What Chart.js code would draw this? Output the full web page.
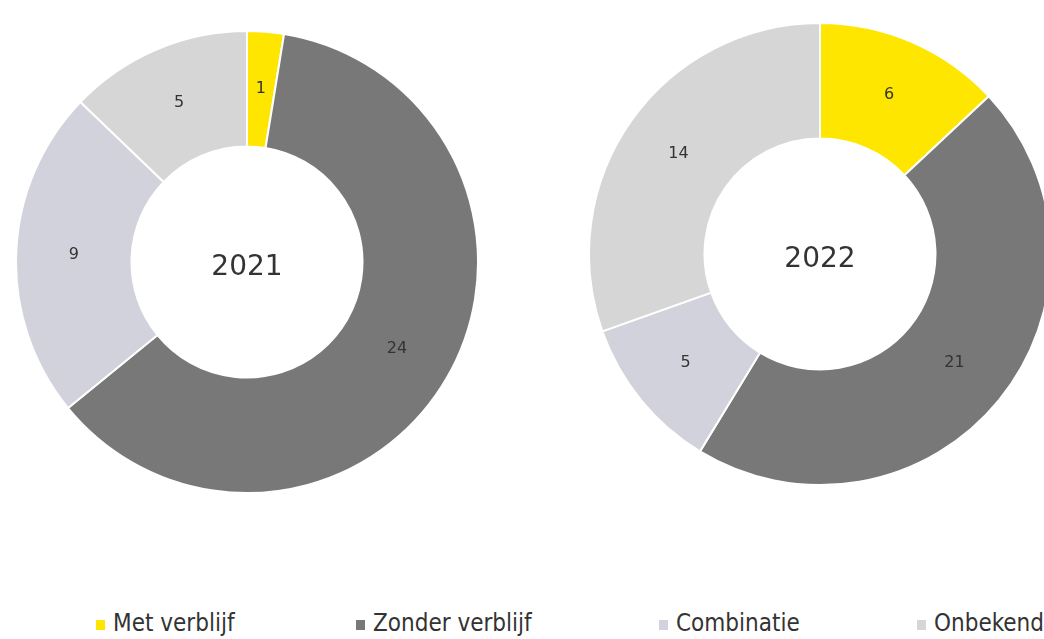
<!DOCTYPE html>
<html>
<head>
<meta charset="utf-8">
<script src="https://cdn.jsdelivr.net/npm/chart.js@4"></script>
<style>
  html, body { margin: 0; padding: 0; background: #fff; width: 1044px; height: 639px; overflow: hidden; position: relative; }
  canvas { position: absolute; }
  #c2021 { left: 15px; top: 30px; }
  #c2022 { left: 588px; top: 22px; }
  .leg { position: absolute; top: 609px; font-family: 'DejaVu Sans Condensed', 'DejaVu Sans', sans-serif; font-size: 24px; color: #333; white-space: nowrap; }
  .leg i { display: inline-block; width: 9px; height: 10px; margin-right: 8px; vertical-align: 1px; }
</style>
</head>
<body>
<canvas id="c2021" width="464" height="464"></canvas>
<canvas id="c2022" width="464" height="464"></canvas>
<div id="legend"></div>
<script>
  // categorieën en waarden per jaar
  const categories = ['Met verblijf', 'Zonder verblijf', 'Combinatie', 'Onbekend'];
  const colors = ['#FFE600', '#787878', '#D2D2DC', '#D6D6D6'];
  const values2021 = [1, 24, 9, 5];
  const values2022 = [6, 21, 5, 14];
  const legendX = [96, 356, 659, 917];

  /* ── labels in de segmenten + jaartal in het midden ── */
  const donutText = {
    id: 'donutText',
    afterDatasetsDraw: function (chart, args, opts) {
      const ctx = chart.ctx;
      const meta = chart.getDatasetMeta(0);
      ctx.save();
      ctx.fillStyle = '#333';
      ctx.textAlign = 'center';
      ctx.textBaseline = 'middle';
      ctx.font = '16px "DejaVu Sans", sans-serif';
      meta.data.forEach(function (arc, i) {
        const p = arc.tooltipPosition();
        ctx.fillText(String(chart.data.datasets[0].data[i]), p.x, p.y);
      });
      ctx.font = '28px "DejaVu Sans", sans-serif';
      const a = meta.data[0];
      ctx.fillText(opts.title, a.x, a.y + 6);
      ctx.restore();
    }
  };

  function makeDonut(id, values, title) {
    return new Chart(document.getElementById(id), {
      type: 'doughnut',
      data: { labels: categories, datasets: [{ data: values, backgroundColor: colors, borderColor: '#fff', borderWidth: 2 }] },
      options: {
        responsive: false,
        animation: false,
        cutout: '50%',
        layout: { padding: 0 },
        plugins: { legend: { display: false }, tooltip: { enabled: false }, donutText: { title: title } },
      },
      plugins: [donutText],
    });
  }

  makeDonut('c2021', values2021, '2021');
  makeDonut('c2022', values2022, '2022');

  /* ── gedeelde legenda onderaan ── */
  document.getElementById('legend').innerHTML = categories.map(function (c, i) {
    return '<span class="leg" style="left:' + legendX[i] + 'px"><i style="background:' + colors[i] + '"></i>' + c + '</span>';
  }).join('');
</script>
</body>
</html>
